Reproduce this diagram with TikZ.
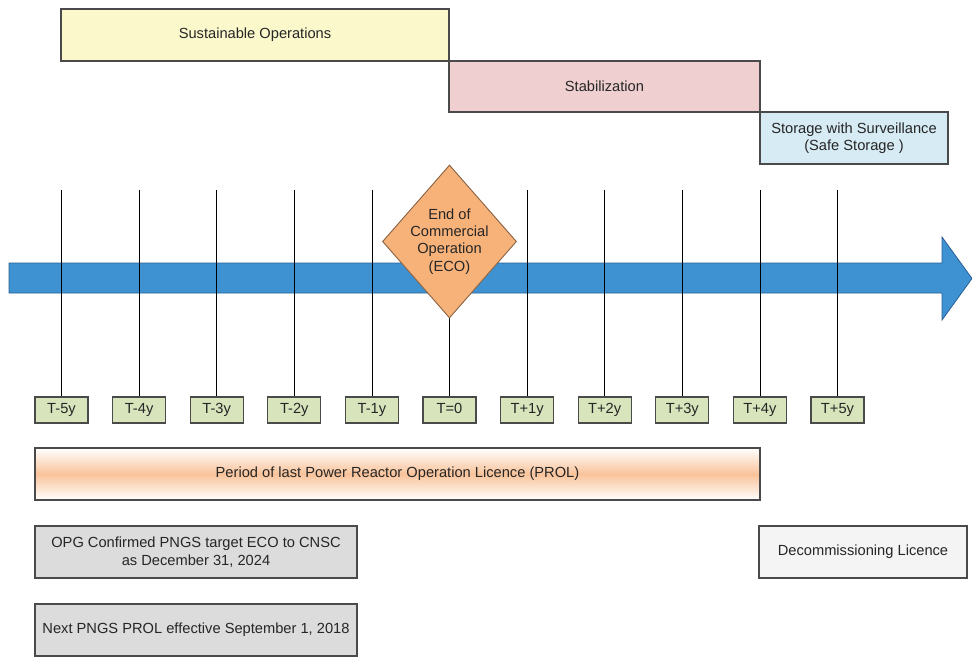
\documentclass[tikz,border=0pt]{standalone}
\usepackage{fontspec}
\setmainfont{Liberation Sans}
\usetikzlibrary{shapes.geometric}

\definecolor{edgegray}{HTML}{4A4A4A}
\definecolor{opsfill}{HTML}{FBF8CC}
\definecolor{stabfill}{HTML}{EFCFCF}
\definecolor{storefill}{HTML}{D6EBF4}
\definecolor{yearfill}{HTML}{D7E4BC}
\definecolor{ecofill}{HTML}{F7B27A}
\definecolor{ecoedge}{HTML}{8A6444}
\definecolor{notefill}{HTML}{DCDCDC}
\definecolor{licfill}{HTML}{F4F4F4}
\definecolor{prolmid}{HTML}{F9C39A}
\definecolor{arrowfill}{HTML}{3E92D2}
\definecolor{arrowedge}{HTML}{2A5F96}

\begin{document}
\begin{tikzpicture}[x=0.75pt,y=-0.75pt,
  txt/.style={font=\fontsize{11}{13}\selectfont, text=black!85},
  box/.style={txt, draw=edgegray, line width=0.9pt, inner sep=0pt, align=center},
  phase/.style={box},
  yearbox/.style={box, fill=yearfill, minimum width=39.75pt, minimum height=19.5pt,
                  text height=8pt, text depth=2.5pt},
  notebox/.style={box, fill=notefill, minimum width=241.5pt, minimum height=39pt},
  tick/.style={draw=black, line width=0.6pt}]
\useasboundingbox (0,0) rectangle (972,658);

% phases along the top
\node[phase, fill=opsfill, minimum width=291pt, minimum height=39pt] (ops) at (255,35) {Sustainable Operations};
\node[phase, fill=stabfill, minimum width=233.25pt, minimum height=38.25pt] (stab) at (604.5,86.5) {Stabilization};
\node[phase, fill=storefill, minimum width=141pt, minimum height=39pt] (store) at (854,138) {Storage with Surveillance\\(Safe Storage )};

% time axis arrow
\draw[fill=arrowfill, draw=arrowedge, line width=0.6pt]
  (9,263) -- (942,263) -- (942,237) -- (972,278.5) -- (942,320) -- (942,293) -- (9,293) -- cycle;

% year markers with their ticks
\foreach \lab [count=\i from 0] in {T-5y,T-4y,T-3y,T-2y,T-1y,T=0,T+1y,T+2y,T+3y,T+4y,T+5y} {
  \pgfmathsetmacro\xx{61.5+77.6*\i}
  \node[yearbox] (yr\i) at (\xx,410) {\lab};
  \coordinate (top\i) at (\xx,190);
  \draw[tick] (top\i) -- (yr\i);
}

% end of commercial operation milestone
\node[diamond, draw=ecoedge, fill=ecofill, line width=0.7pt, inner sep=0pt,
      minimum width=100.5pt, minimum height=114.75pt,
      label={[txt, align=center]center:End of\\Commercial\\Operation\\(ECO)}] (eco) at (449.5,241.5) {};

% licence period
\node[box, top color=white, bottom color=white, middle color=prolmid,
      minimum width=543.75pt, minimum height=39pt] (prol) at (397.5,474)
      {Period of last Power Reactor Operation Licence (PROL)};

% notes
\node[notebox] (target) at (196,552) {OPG Confirmed PNGS target ECO to CNSC\\as December 31, 2024};
\node[notebox] (next) at (196,630) {Next PNGS PROL effective September 1, 2018};
\node[box, fill=licfill, minimum width=156pt, minimum height=39pt] (decom) at (863,552) {Decommissioning Licence};
\end{tikzpicture}
\end{document}
